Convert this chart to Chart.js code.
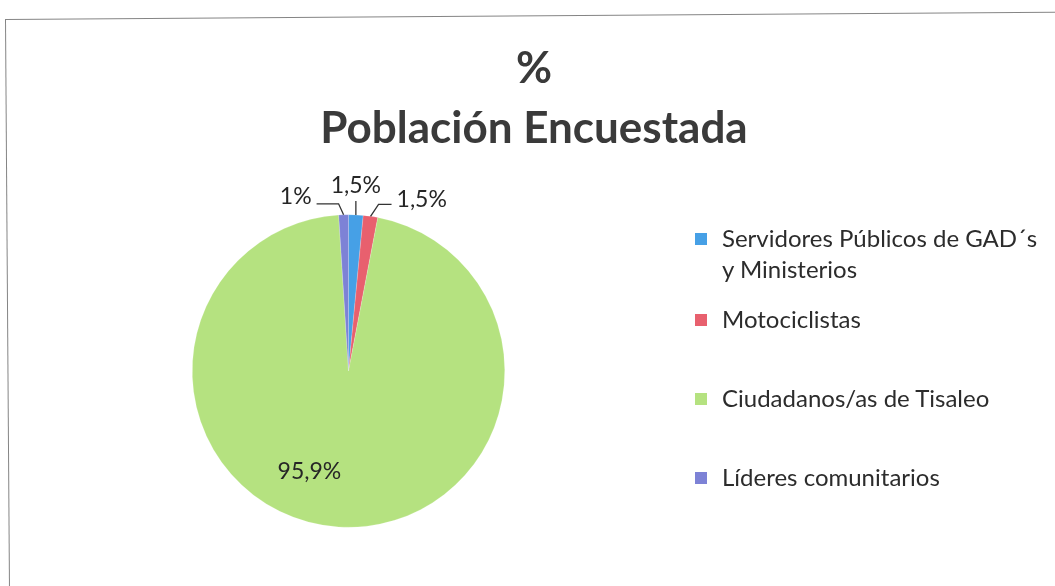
<!DOCTYPE html>
<html>
<head>
<meta charset="utf-8">
<script src="https://cdn.jsdelivr.net/npm/chart.js@4"></script>
<style>
  body { margin: 0; background: #fff; font-family: Lato, "Open Sans", sans-serif; }
  #wrap { position: relative; width: 1055px; height: 586px; overflow: hidden; }
  #frame { position: absolute; left: 5px; top: 19px; width: 1100px; height: 620px;
           border-left: 1px solid #858585; border-top: 1px solid #858585;
           transform-origin: 0 0; transform: rotate(-0.4deg); }
  #title { position: absolute; left: 0; width: 1068px; top: 36px; text-align: center;
           font-weight: bold; color: #3a3a3a; font-size: 44px; line-height: 60px; }
  .leg-item { position: absolute; left: 695px; width: 352px; font-size: 24px; line-height: 31px;
              color: #2c2c2c; padding-left: 27px; box-sizing: border-box; }
  .leg-box { position: absolute; left: 0; top: 11px; width: 12px; height: 12px; }
  canvas { position: absolute; left: 0; top: 0; }
</style>
</head>
<body>
<div id="wrap">
  <div id="frame"></div>
  <canvas id="pie" width="1055" height="586"></canvas>
  <div id="title">%<br>Población Encuestada</div>
  <div id="legend"></div>
</div>
<script>
const categories = [
  "Servidores Públicos de GAD´s y Ministerios",
  "Motociclistas",
  "Ciudadanos/as de Tisaleo",
  "Líderes comunitarios"
];
const percentages = [1.5, 1.5, 95.9, 1];
const sliceColors = ["#46a0e6", "#e8606e", "#b5e280", "#7d82d6"];

function pctLabel(v) {
  return String(v).replace(".", ",") + "%";
}

// etiquetas de datos con líneas guía (estilo Excel)
const pieLabels = {
  id: "pieLabels",
  afterDatasetsDraw(chart) {
    const ctx = chart.ctx;
    const meta = chart.getDatasetMeta(0);
    ctx.save();
    ctx.font = "23px Lato, 'Open Sans', sans-serif";
    ctx.fillStyle = "#262626";
    ctx.strokeStyle = "#333";
    ctx.lineWidth = 1.3;
    ctx.textBaseline = "middle";
    meta.data.forEach((arc, i) => {
      const p = arc.getProps(["x", "y", "startAngle", "endAngle", "outerRadius"], true);
      const mid = (p.startAngle + p.endAngle) / 2;
      const ex = p.x + p.outerRadius * Math.cos(mid);
      const ey = p.y + p.outerRadius * Math.sin(mid);
      const txt = pctLabel(percentages[i]);
      ctx.beginPath();
      if (i === 0) {
        ctx.moveTo(ex, ey);
        ctx.lineTo(ex, ey - 14);
        ctx.stroke();
        ctx.textAlign = "center";
        ctx.fillText(txt, ex, ey - 29);
      } else if (i === 1) {
        ctx.moveTo(ex, ey);
        ctx.lineTo(ex + 8, ey - 12);
        ctx.lineTo(ex + 21, ey - 12);
        ctx.stroke();
        ctx.textAlign = "left";
        ctx.fillText(txt, ex + 26, ey - 17);
      } else if (i === 3) {
        ctx.moveTo(ex, ey);
        ctx.lineTo(ex - 5, ey - 11);
        ctx.lineTo(ex - 27, ey - 11);
        ctx.stroke();
        ctx.textAlign = "right";
        ctx.fillText(txt, ex - 32, ey - 18);
      } else {
        ctx.textAlign = "center";
        ctx.fillText(txt, p.x - 0.25 * p.outerRadius, p.y + 0.645 * p.outerRadius);
      }
    });
    ctx.restore();
  }
};

new Chart(document.getElementById("pie"), {
  type: "pie",
  data: {
    labels: categories,
    datasets: [{
      data: percentages,
      backgroundColor: sliceColors,
      borderColor: "rgba(255,255,255,0.35)",
      borderWidth: 0.5
    }]
  },
  options: {
    responsive: false,
    animation: false,
    layout: { padding: { left: 192, right: 550, top: 214, bottom: 58 } },
    plugins: {
      legend: { display: false },
      title: { display: false },
      tooltip: { enabled: false }
    }
  },
  plugins: [pieLabels]
});

// leyenda a la derecha
const legendTops = [222, 303, 382, 461];
const legend = document.getElementById("legend");
categories.forEach((c, i) => {
  const item = document.createElement("div");
  item.className = "leg-item";
  item.style.top = legendTops[i] + "px";
  item.innerHTML = `<span class="leg-box" style="background:${sliceColors[i]}"></span>${c}`;
  legend.appendChild(item);
});
</script>
</body>
</html>
